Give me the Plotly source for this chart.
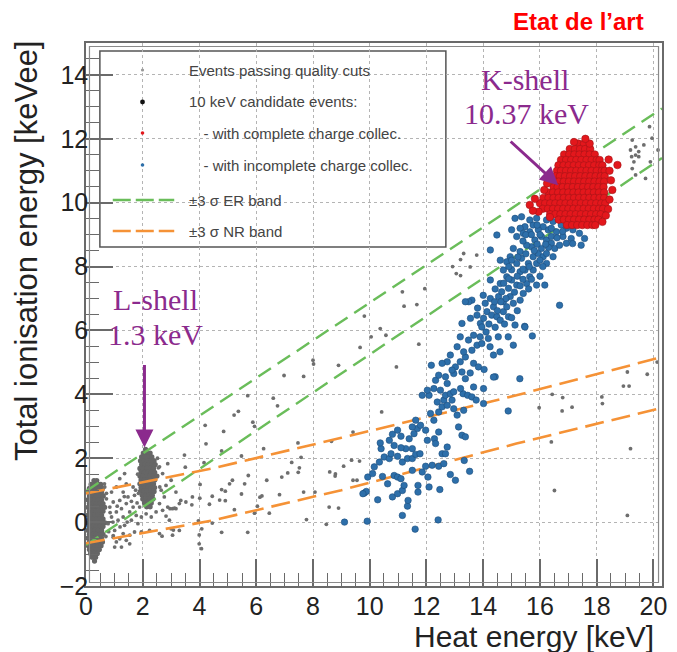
import plotly.graph_objects as go

# ---------------------------------------------------------------------------
# Data: heat energy [keV] vs total ionisation energy [keVee]
# ---------------------------------------------------------------------------

# Dense low-energy population near zero heat: rows of (ionisation, [heat values])
noise_rows = [
    (1.30, [0.28, 0.38]),
    (1.18, [0.18, 0.30, 0.42, 0.52]),
    (1.06, [0.12, 0.24, 0.36, 0.48, 0.58]),
    (0.94, [0.08, 0.19, 0.31, 0.43, 0.55]),
    (0.82, [0.12, 0.25, 0.37, 0.49, 0.61]),
    (0.70, [0.07, 0.19, 0.31, 0.43, 0.55]),
    (0.58, [0.12, 0.24, 0.36, 0.48, 0.60]),
    (0.46, [0.07, 0.19, 0.31, 0.43, 0.55, 0.66]),
    (0.34, [0.12, 0.24, 0.36, 0.48, 0.60]),
    (0.22, [0.07, 0.19, 0.31, 0.43, 0.55]),
    (0.10, [0.12, 0.24, 0.36, 0.48, 0.60]),
    (-0.02, [0.07, 0.19, 0.31, 0.43, 0.55, 0.67]),
    (-0.14, [0.12, 0.24, 0.36, 0.48, 0.60]),
    (-0.26, [0.07, 0.19, 0.31, 0.43, 0.55]),
    (-0.38, [0.12, 0.24, 0.36, 0.48, 0.60]),
    (-0.50, [0.07, 0.19, 0.31, 0.43, 0.55]),
    (-0.62, [0.12, 0.24, 0.36, 0.48, 0.58]),
    (-0.74, [0.08, 0.19, 0.31, 0.43, 0.53]),
    (-0.86, [0.12, 0.24, 0.36, 0.47]),
    (-0.98, [0.16, 0.28, 0.40]),
    (-1.10, [0.22, 0.34]),
    (-1.22, [0.30]),
]

# L-shell population around 2 keV heat
lshell_rows = [
    (2.28, [2.10]),
    (2.16, [2.02, 2.14, 2.26]),
    (2.04, [1.96, 2.08, 2.20, 2.32]),
    (1.92, [1.92, 2.04, 2.16, 2.28, 2.40]),
    (1.80, [1.96, 2.08, 2.20, 2.32, 2.44]),
    (1.68, [1.90, 2.02, 2.14, 2.26, 2.38]),
    (1.56, [1.94, 2.06, 2.18, 2.30, 2.42]),
    (1.44, [1.90, 2.02, 2.14, 2.26, 2.38, 2.50]),
    (1.32, [1.94, 2.06, 2.18, 2.30, 2.42]),
    (1.20, [1.90, 2.02, 2.14, 2.26, 2.38]),
    (1.08, [1.94, 2.06, 2.18, 2.30, 2.42]),
    (0.96, [1.92, 2.04, 2.16, 2.28, 2.40]),
    (0.84, [1.98, 2.10, 2.22, 2.34]),
    (0.72, [2.00, 2.12, 2.24, 2.36]),
    (0.60, [2.06, 2.18, 2.30]),
    (0.48, [2.14, 2.26]),
]

# Individual events passing quality cuts (heat, ionisation)
quality_scatter = [
    (0.72, 0.90), (0.70, -0.45), (0.65, 1.20), (1.82, 1.50), (2.55, 1.70),
    (2.60, 1.10), (2.52, 2.00), (1.85, 0.90),
    (0.72, 0.73), (0.84, 0.47), (0.96, 0.63), (0.90, 0.16), (0.78, -0.05),
    (1.01, -0.26), (1.07, 0.32), (1.19, 0.68), (1.25, 0.42), (1.31, 0.16),
    (1.36, -0.10), (1.42, 0.58), (1.48, 0.79), (1.54, 0.32), (1.60, 0.06),
    (1.66, 0.47), (1.71, 0.84), (1.77, 0.21), (1.83, -0.05), (1.13, 0.06),
    (0.96, -0.47), (1.19, -0.52), (1.31, -0.36), (1.54, -0.41), (1.71, -0.31),
    (1.89, 0.47), (1.95, 0.16), (2.12, 0.26), (2.30, 0.16), (2.47, 0.32),
    (2.70, 0.37), (2.88, 0.47), (2.59, 0.58), (2.76, 0.79), (2.65, 1.00),
    (2.82, 1.15), (3.00, 1.31), (2.70, 1.52), (2.59, 1.73), (2.88, 1.83),
    (3.17, 0.94), (3.34, 0.68), (0.90, 0.94), (0.66, 1.10), (1.07, 1.10),
    (1.31, 0.94), (1.42, 1.20), (1.66, 1.10), (3.17, 0.42), (3.29, 0.58),
    (3.52, 0.63), (3.75, 0.79), (2.94, 0.06), (1.95, -0.31), (2.24, -0.26),
    (2.59, -0.36), (3.05, -0.41), (3.29, -0.26), (1.54, -0.68), (1.25, -0.78),
    (1.07, -0.62), (1.19, 1.36), (1.36, 1.52), (0.85, 0.30), (0.95, 0.00),
    (1.20, -0.15), (1.45, 0.00), (1.10, 0.50), (1.35, 0.80), (0.80, -0.30),
    (1.60, 0.65), (1.80, 0.60), (1.75, 1.00),
    (1.42, -0.57), (1.01, -0.78), (0.96, -0.42),
    (3.47, 2.10), (3.50, 1.72), (4.02, 1.18), (4.35, 0.56), (3.73, 0.54),
    (2.96, 0.42), (3.05, 0.42), (3.12, 0.44), (2.82, 0.19), (3.00, -0.21),
    (3.08, -0.25), (2.68, -0.44), (3.96, 0.04), (3.99, -0.40), (3.99, -0.68),
    (4.07, -0.83),
    (9.81, 6.45), (9.66, 5.47), (8.90, 4.91), (8.00, 5.07), (8.02, 4.95),
    (6.98, 4.59), (7.67, 4.56), (5.70, 3.96), (6.60, 3.88), (6.75, 3.64),
    (5.37, 3.47), (5.22, 3.35), (4.20, 3.03), (5.88, 3.13), (5.94, 3.00),
    (4.85, 2.84), (4.23, 2.45), (4.78, 2.23), (6.26, 2.30), (7.47, 2.48),
    (9.41, 2.82), (8.65, 2.53), (5.48, 2.07), (7.58, 2.03), (4.16, 1.86),
    (7.25, 1.87), (7.52, 1.70), (9.08, 1.75), (9.36, 1.94), (9.64, 1.91),
    (5.72, 1.46), (5.16, 1.31), (5.06, 1.20), (5.59, 1.20), (6.37, 1.31),
    (6.90, 1.41), (7.11, 1.54), (7.48, 1.56), (8.59, 1.57), (8.78, 1.44),
    (9.41, 1.31), (9.55, 1.31), (4.78, 1.02), (4.91, 0.97), (4.45, 0.81),
    (4.01, 0.75), (4.71, 0.69), (4.91, 0.67), (5.48, 0.88), (6.13, 0.78),
    (6.82, 0.86), (7.67, 0.94), (8.07, 0.94), (5.23, 0.39), (6.04, 0.50),
    (6.46, 0.28), (5.94, 0.28), (6.20, 0.82), (8.57, 0.47), (8.90, 0.44),
    (7.77, 0.08), (8.47, -0.07), (4.45, -0.03), (4.08, -0.21), (4.78, -0.32),
    (5.70, -0.32), (8.79, 1.51),
    (10.37, 6.06), (10.57, 5.85), (10.05, 5.80), (10.94, 4.86), (11.73, 5.57),
    (10.42, 3.45), (11.15, 7.21), (11.94, 7.31), (11.21, 6.76), (11.66, 6.81),
    (12.92, 8.00), (13.20, 8.22), (13.31, 8.41), (13.05, 7.78), (13.20, 7.72),
    (13.54, 7.99), (13.77, 8.36),
    (19.86, 12.38), (19.95, 12.02), (19.25, 11.96), (19.37, 11.75),
    (19.19, 11.65), (19.48, 11.60), (19.37, 11.49), (19.23, 11.44),
    (19.48, 11.44), (19.31, 11.28), (19.25, 11.07), (19.66, 11.81),
    (19.37, 10.87), (19.72, 10.76), (19.89, 11.28), (20.16, 11.65),
    (19.08, 4.70), (19.78, 4.63), (20.13, 5.01), (18.94, 4.26), (19.14, 4.26),
    (18.18, 3.92), (18.20, 3.71), (19.19, 2.30), (19.08, 0.21),
    (16.43, 4.00), (16.80, 3.90), (17.13, 3.60), (16.78, 3.48), (15.97, 3.58),
    (16.40, 2.51), (16.51, 0.99),
]

# 10 keV candidates with incomplete charge collection (heat, ionisation)
incomplete_events = [
    (9.11, 0.00), (9.91, 0.03), (11.60, -0.22), (12.41, 0.07), (11.15, 0.21),
    (11.33, 0.50), (11.35, 0.68), (10.28, 0.70), (10.80, 0.79), (10.98, 0.89),
    (11.15, 0.99), (11.70, 0.94), (11.70, 1.15), (11.21, 1.15), (10.63, 1.20),
    (12.47, 1.02), (9.81, 0.91), (9.88, 0.96), (9.93, 1.41), (10.10, 1.52),
    (10.45, 1.43), (10.86, 1.46), (10.98, 1.41), (11.10, 1.36), (11.50, 1.62),
    (11.85, 1.57), (12.05, 1.41), (12.09, 1.10), (11.97, 1.75), (12.20, 1.78),
    (12.43, 1.75), (12.61, 1.83), (12.84, 1.49), (13.33, 1.93), (13.52, 1.59),
    (13.02, 1.31), (10.16, 1.73), (10.34, 1.88), (10.51, 2.04), (10.69, 1.99),
    (10.75, 2.14), (10.98, 2.06), (11.15, 1.88), (11.33, 1.99), (11.50, 1.99),
    (11.62, 2.12), (11.77, 2.14), (11.50, 2.30), (11.27, 2.30), (11.10, 2.33),
    (10.86, 2.40), (10.69, 2.56), (10.40, 2.30), (10.37, 2.48), (10.80, 2.75),
    (10.98, 2.88), (11.10, 2.69), (11.39, 2.61), (11.56, 2.77), (11.68, 2.93),
    (11.62, 3.19), (11.79, 3.03), (11.97, 2.88), (12.03, 2.56), (12.28, 2.61),
    (12.32, 2.46), (12.43, 2.82), (12.55, 2.14), (12.67, 2.14), (12.73, 2.35),
    (13.13, 2.98), (13.25, 2.72), (13.37, 2.67), (11.50, 2.98), (12.14, 3.40),
    (12.26, 3.19), (12.43, 3.45), (12.55, 3.61), (12.73, 3.66), (12.96, 3.55),
    (13.08, 3.35), (13.31, 3.50), (12.90, 3.82), (12.61, 3.82), (12.38, 3.76),
    (12.09, 3.97), (11.85, 3.97), (12.03, 4.13), (12.26, 4.18), (12.49, 4.13),
    (12.67, 3.97), (12.84, 4.02), (12.96, 4.08), (13.29, 4.02), (13.45, 3.97),
    (13.60, 3.92), (13.75, 3.82), (14.01, 3.71), (14.88, 3.48), (13.20, 4.18),
    (12.73, 4.34), (12.32, 4.44), (12.43, 4.60), (12.67, 4.55), (12.96, 4.65),
    (13.37, 4.49), (13.66, 4.23), (14.01, 4.18), (13.54, 4.67), (13.25, 4.70),
    (13.02, 4.86), (12.90, 4.76), (12.73, 5.02), (12.55, 4.97), (12.17, 4.91),
    (13.19, 5.02), (13.37, 5.17), (13.66, 4.97), (13.83, 4.86), (14.03, 4.78),
    (14.42, 4.55), (13.31, 5.33), (13.60, 5.38), (13.78, 5.54), (13.95, 5.59),
    (14.24, 5.49), (14.59, 5.33), (14.36, 5.23), (13.08, 5.49), (13.19, 5.80),
    (13.48, 5.70), (13.66, 5.85), (13.89, 5.80), (14.18, 5.75), (14.53, 5.80),
    (14.88, 5.80), (15.06, 5.54), (12.84, 5.23), (15.29, 4.49), (14.36, 4.54),
    (15.73, 5.83), (15.46, 6.13), (9.76, 0.89),
    (13.90, 6.22), (14.01, 6.38), (14.13, 6.59), (14.30, 6.48), (14.48, 6.43),
    (14.60, 6.32), (14.71, 6.59), (14.89, 6.43), (15.12, 6.17), (15.47, 6.11),
    (14.07, 6.85), (14.25, 7.00), (14.36, 6.74), (14.54, 7.06), (14.71, 6.90),
    (14.83, 6.74), (14.65, 7.21), (14.89, 7.32), (14.95, 7.06), (15.06, 6.85),
    (15.30, 6.95), (15.41, 7.16), (15.18, 7.42), (15.00, 7.58), (14.83, 7.68),
    (14.60, 7.47), (14.25, 7.58), (13.60, 6.95), (13.49, 6.90), (15.53, 7.47),
    (15.64, 7.68), (15.47, 7.89), (15.30, 7.84), (15.18, 8.10), (15.35, 8.26),
    (15.59, 8.10), (15.76, 7.89), (15.88, 8.10), (15.76, 8.31), (15.94, 8.41),
    (16.11, 8.31), (16.23, 8.10), (16.05, 8.57), (15.70, 8.62), (15.53, 8.67),
    (15.30, 8.47), (15.06, 8.57), (14.95, 8.31), (14.83, 8.15), (15.82, 8.83),
    (16.05, 8.94), (16.23, 8.83), (16.40, 8.73), (16.52, 8.57), (16.40, 8.94),
    (16.58, 9.09), (16.29, 9.15), (16.11, 9.25), (15.94, 9.15), (15.76, 9.30),
    (15.64, 9.46), (15.88, 9.51), (15.47, 9.25), (16.23, 9.46), (16.46, 9.41),
    (16.75, 9.30), (16.93, 9.20), (17.16, 9.15), (17.39, 9.04), (17.57, 8.88),
    (17.10, 8.88), (16.81, 8.94), (16.93, 8.73), (16.69, 8.67), (17.45, 8.67),
    (16.46, 8.31), (16.23, 8.41), (15.35, 9.56), (15.12, 9.51), (15.30, 9.20),
    (15.18, 8.94), (15.41, 9.04), (15.64, 9.09), (14.48, 8.99), (15.00, 9.15),
    (14.25, 8.52), (14.60, 8.20), (14.71, 7.89), (15.88, 7.42), (16.17, 7.42),
    (16.69, 6.79), (13.55, 6.38), (13.78, 6.48), (13.95, 6.11), (13.37, 6.90),
    (13.25, 6.22), (17.15, 8.72), (15.90, 8.70), (16.30, 8.60), (16.00, 9.00),
    (15.50, 8.40), (15.20, 7.70), (15.40, 7.60), (15.60, 7.30), (15.00, 7.90),
    (14.90, 8.00), (16.10, 8.00), (15.50, 9.00), (16.60, 8.90), (16.80, 9.10),
    (14.40, 6.90), (14.50, 6.62), (14.80, 7.00), (15.10, 7.20), (15.20, 6.62),
    (14.72, 7.48), (15.40, 7.92), (15.62, 8.00), (15.80, 8.50), (16.00, 8.20),
    (15.40, 8.80), (15.70, 9.00), (16.20, 8.70), (15.00, 8.20), (15.22, 8.30),
    (14.90, 7.62), (15.30, 7.40), (15.70, 7.60), (16.00, 7.70), (15.90, 9.30),
    (16.40, 9.20), (14.62, 6.90), (14.20, 6.20), (14.42, 6.10), (14.75, 6.20),
    (15.00, 6.40), (13.80, 6.70), (14.00, 7.10), (14.42, 7.30), (14.10, 5.95),
]

# 10 keV K-shell candidates with complete charge collection: dense rows
kshell_rows = [
    (11.85, [17.35, 17.55]),
    (11.68, [17.05, 17.23, 17.41, 17.59, 17.77]),
    (11.51, [16.85, 17.03, 17.21, 17.39, 17.57, 17.75, 17.93]),
    (11.34, [16.74, 16.92, 17.10, 17.28, 17.46, 17.64, 17.82, 18.00, 18.10]),
    (11.17, [16.65, 16.83, 17.01, 17.19, 17.37, 17.55, 17.73, 17.91, 18.09, 18.20]),
    (11.00, [16.60, 16.74, 16.92, 17.10, 17.28, 17.46, 17.64, 17.82, 18.00, 18.18, 18.28]),
    (10.83, [16.55, 16.70, 16.88, 17.06, 17.24, 17.42, 17.60, 17.78, 17.96, 18.14, 18.28]),
    (10.66, [16.52, 16.66, 16.84, 17.02, 17.20, 17.38, 17.56, 17.74, 17.92, 18.10, 18.26]),
    (10.49, [16.48, 16.62, 16.80, 16.98, 17.16, 17.34, 17.52, 17.70, 17.88, 18.06, 18.24]),
    (10.32, [16.30, 16.46, 16.64, 16.82, 17.00, 17.18, 17.36, 17.54, 17.72, 17.90, 18.08, 18.26]),
    (10.15, [16.12, 16.30, 16.48, 16.66, 16.84, 17.02, 17.20, 17.38, 17.56, 17.74, 17.92, 18.10, 18.26]),
    (9.98, [16.00, 16.18, 16.36, 16.54, 16.72, 16.90, 17.08, 17.26, 17.44, 17.62, 17.80, 17.98, 18.16, 18.30]),
    (9.81, [16.10, 16.28, 16.46, 16.64, 16.82, 17.00, 17.18, 17.36, 17.54, 17.72, 17.90, 18.08, 18.22]),
    (9.64, [16.36, 16.54, 16.72, 16.90, 17.08, 17.26, 17.44, 17.62, 17.80, 17.98, 18.14]),
    (9.47, [16.66, 16.84, 17.02, 17.20, 17.38, 17.56, 17.74, 17.92, 18.06]),
    (9.30, [16.95, 17.13, 17.31, 17.49, 17.67, 17.85]),
]

# Complete-collection candidates around the edge of the K-shell peak
complete_scatter = [
    (15.64, 9.93), (15.82, 10.12), (15.95, 9.72), (16.15, 10.40), (16.25, 10.60),
    (16.35, 9.55), (15.75, 9.75), (18.73, 11.18), (18.55, 10.40), (18.45, 10.10),
    (18.40, 9.80), (18.32, 9.60), (18.20, 9.40), (17.95, 9.30), (18.45, 11.00),
    (18.50, 10.70), (18.42, 11.35), (17.20, 11.90), (17.75, 11.85), (17.60, 12.00),
]

# +/- 3 sigma electron-recoil and nuclear-recoil bands
er_band_x = [0.0, 20.3]
er_upper = [0.97, 12.95]
er_lower = [-0.72, 11.40]
nr_band_x = [0.0, 4.45, 9.0, 15.17, 20.3]
nr_upper = [0.90, 1.68, 2.64, 3.97, 5.17]
nr_lower = [-0.66, 0.05, 1.00, 2.46, 3.58]

legend_labels = [
    "Events passing quality cuts",
    "10 keV candidate events:",
    "  - with complete charge collec.",
    "  - with incomplete charge collec.",
    "\u00b13 \u03c3 ER band",
    "\u00b13 \u03c3 NR band",
]

# ---------------------------------------------------------------------------
GRAY = "#666666"
BLUE = "#2D6FAA"
RED = "#E3171C"
GREEN = "#6ABD5A"
ORANGE = "#F59236"
PURPLE = "#8B2A8D"
SANS = "Liberation Sans, Arial, sans-serif"
SERIF = "Liberation Serif, Times New Roman, serif"

W, H = 677, 652
ML, MR, MT, MB = 86, 10, 43, 66
PW, PH = W - ML - MR, H - MT - MB


def px(p):
    return (p - ML) / PW


def py(p):
    return (H - MB - p) / PH


def rows_to_xy(rows):
    xs = [x for _, row in rows for x in row]
    ys = [y for y, row in rows for _ in row]
    return xs, ys


fig = go.Figure()

# quality-cut events: the two dense populations, then isolated events
nx, ny = rows_to_xy(noise_rows)
lx, ly = rows_to_xy(lshell_rows)
fig.add_trace(go.Scatter(x=nx + lx, y=ny + ly, mode="markers",
                         marker=dict(size=5.2, color=GRAY, line=dict(width=0)),
                         hoverinfo="skip"))
fig.add_trace(go.Scatter(x=[p[0] for p in quality_scatter],
                         y=[p[1] for p in quality_scatter], mode="markers",
                         marker=dict(size=3.8, color="#6e6e6e", line=dict(width=0)),
                         hoverinfo="skip"))

# bands
for yv in (er_upper, er_lower):
    fig.add_trace(go.Scatter(x=er_band_x, y=yv, mode="lines",
                             line=dict(color=GREEN, width=2.4, dash="15px,8px"),
                             hoverinfo="skip"))
for yv in (nr_upper, nr_lower):
    fig.add_trace(go.Scatter(x=nr_band_x, y=yv, mode="lines",
                             line=dict(color=ORANGE, width=2.6, dash="19px,8px"),
                             hoverinfo="skip"))

# incomplete collection candidates
fig.add_trace(go.Scatter(x=[p[0] for p in incomplete_events],
                         y=[p[1] for p in incomplete_events], mode="markers",
                         marker=dict(size=6.5, color=BLUE,
                                     line=dict(width=0.6, color="#1F4F7E")),
                         hoverinfo="skip"))

# complete collection candidates
kx, ky = rows_to_xy(kshell_rows)
fig.add_trace(go.Scatter(x=kx + [p[0] for p in complete_scatter],
                         y=ky + [p[1] for p in complete_scatter], mode="markers",
                         marker=dict(size=7.5, color=RED,
                                     line=dict(width=0.6, color="#A31417")),
                         hoverinfo="skip"))

# ---------------------------------------------------------------------------
shapes = []
# double frame
shapes.append(dict(type="rect", xref="paper", yref="paper",
                   x0=px(ML + 3.5), x1=px(W - MR - 3.5),
                   y0=py(H - MB - 3.5), y1=py(MT + 3.5),
                   line=dict(color="#8a8a8a", width=1.2), layer="above"))

# legend box
shapes.append(dict(type="rect", xref="paper", yref="paper",
                   x0=px(100), x1=px(449), y0=py(247), y1=py(51),
                   fillcolor="white", line=dict(color="#555555", width=1.5),
                   layer="between"))
row_y = [70, 102, 133, 165, 200, 231]
dot_specs = [("#9a9a9a", 1.6), ("#111111", 2.4), (RED, 1.8), (BLUE, 1.8)]
for (col, r), yy in zip(dot_specs, row_y[:4]):
    shapes.append(dict(type="circle", xref="paper", yref="paper",
                       xsizemode="pixel", ysizemode="pixel",
                       xanchor=px(143), yanchor=py(yy),
                       x0=-r, x1=r, y0=-r, y1=r,
                       fillcolor=col, line=dict(width=0), layer="above"))
for col, yy in ((GREEN, row_y[4]), (ORANGE, row_y[5])):
    shapes.append(dict(type="line", xref="paper", yref="paper",
                       x0=px(113), x1=px(175), y0=py(yy), y1=py(yy),
                       line=dict(color=col, width=2.4, dash="18px,5px"),
                       layer="above"))

annotations = []
text_x = [188, 188, 190, 190, 188, 188]
for label, yy, xx in zip(legend_labels, row_y, text_x):
    annotations.append(dict(xref="paper", yref="paper", x=px(xx), y=py(yy),
                            text=label.replace("  ", "&nbsp;&nbsp;&nbsp;"),
                            showarrow=False, xanchor="left", yanchor="middle",
                            font=dict(family=SANS, size=15, color="#444444")))

# peak labels
for txt, cx, cy in (("K-shell", 529, 79), ("10.37 keV", 530, 113),
                    ("L-shell", 156, 299), ("1.3 keV", 156, 334)):
    annotations.append(dict(xref="paper", yref="paper", x=px(cx), y=py(cy),
                            text=txt, showarrow=False, xanchor="center",
                            yanchor="middle",
                            font=dict(family=SERIF, size=30, color=PURPLE)))

# arrows pointing at the peaks
annotations.append(dict(x=16.64, y=10.55, xref="x", yref="y", text="",
                        showarrow=True, ax=-49, ay=-45, arrowhead=2,
                        arrowsize=1.2, arrowwidth=3, arrowcolor=PURPLE,
                        standoff=0))
annotations.append(dict(x=2.06, y=2.34, xref="x", yref="y", text="",
                        showarrow=True, ax=0, ay=-84, arrowhead=2,
                        arrowsize=1.2, arrowwidth=3, arrowcolor=PURPLE,
                        standoff=0))

# title tag
annotations.append(dict(xref="paper", yref="paper", x=px(583), y=py(22),
                        text="<b>Etat de l\u2019art</b>", showarrow=False,
                        xanchor="center", yanchor="middle",
                        font=dict(family=SANS, size=24, color="#FF0000")))

# axis titles
annotations.append(dict(xref="paper", yref="paper", x=px(661), y=py(636),
                        text="Heat energy [keV]", showarrow=False,
                        xanchor="right", yanchor="middle",
                        font=dict(family=SANS, size=30, color="#222222")))
annotations.append(dict(xref="paper", yref="paper", x=px(26), y=py(38),
                        text="Total ionisation energy [keVee]", showarrow=False,
                        textangle=-90, xanchor="center", yanchor="top",
                        font=dict(family=SANS, size=31, color="#222222")))

axis_common = dict(
    ticks="inside", ticklen=27, tickwidth=1.5, tickcolor="#6a6a6a",
    showgrid=True, gridcolor="#b4b4b4", griddash="dot", gridwidth=1,
    showline=True, linecolor="#6a6a6a", linewidth=1.5, mirror=True,
    zeroline=False, tickmode="linear", dtick=2,
    tickfont=dict(family=SANS, size=25, color="#222222"),
    minor=dict(ticks="inside", ticklen=13, tickwidth=1.2, tickcolor="#6a6a6a",
               dtick=0.5, showgrid=False),
)

fig.update_layout(
    width=W, height=H,
    margin=dict(l=ML, r=MR, t=MT, b=MB),
    paper_bgcolor="white", plot_bgcolor="white",
    showlegend=False,
    xaxis=dict(range=[0, 20.3], tick0=0, ticklabelstandoff=-3, **axis_common),
    yaxis=dict(range=[-2, 15], tick0=0, ticklabelstandoff=-9, **axis_common),
    shapes=shapes,
    annotations=annotations,
)

fig.write_html("out.html")
